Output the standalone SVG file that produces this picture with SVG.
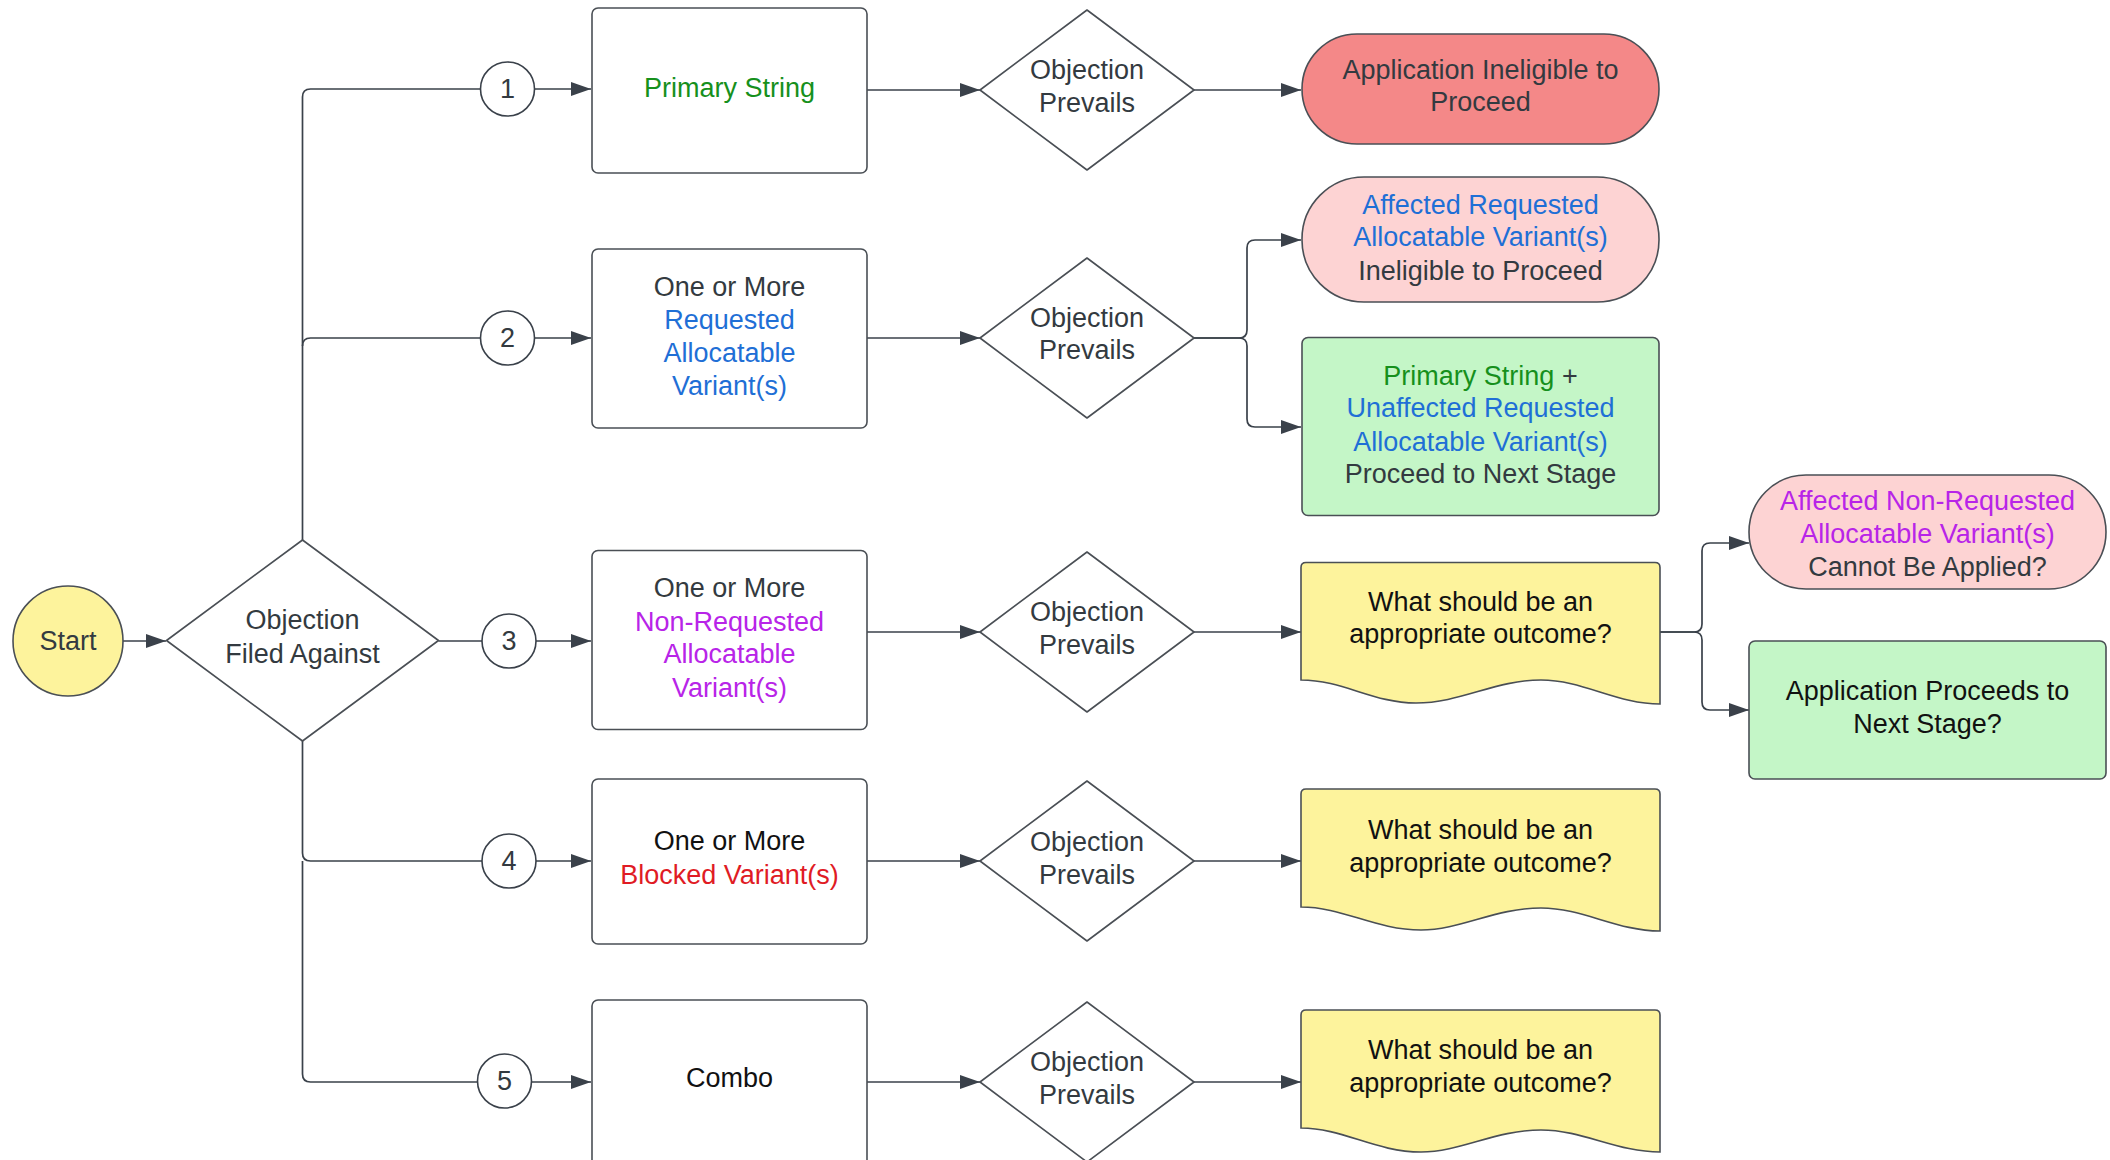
<svg xmlns="http://www.w3.org/2000/svg" width="2110" height="1160" viewBox="0 0 2110 1160">
<defs>
<marker id="arr" markerUnits="userSpaceOnUse" markerWidth="20" markerHeight="14" refX="20" refY="7" orient="auto">
<path d="M0,0 L20,7 L0,14 z" fill="#3a414a"/>
</marker>
<style>
text{font-family:"Liberation Sans",Arial,sans-serif;font-size:27px;text-anchor:middle;fill:#333a40}
.shape{stroke:#4a4f55;stroke-width:1.6}
.box{fill:#ffffff}
.dia{fill:#ffffff}
.conn{fill:none;stroke:#3a414a;stroke-width:1.7}
.arrow{marker-end:url(#arr)}
.lbl{fill:#ffffff;stroke:#3a414a;stroke-width:1.6}
.blk{fill:#111111}
.grn{fill:#16901c}
.blu{fill:#1f6fd6}
.pur{fill:#b824e8}
.red{fill:#e01b24}
.yel{fill:#fdf39c}
.rdf{fill:#f48888}
.pnk{fill:#fdd3d3}
.gnf{fill:#c4f6c7}
</style>
</defs>

<g id="connectors">
<path class="conn arrow" d="M123,641 H166"/>
<path class="conn arrow" d="M302.5,540 V97 Q302.5,89 310.5,89 H591"/>
<path class="conn arrow" d="M302.5,346 Q302.5,338 310.5,338 H591"/>
<path class="conn arrow" d="M438.5,641 H591"/>
<path class="conn arrow" d="M302.5,741 V853 Q302.5,861 310.5,861 H591"/>
<path class="conn arrow" d="M302.5,861 V1074 Q302.5,1082 310.5,1082 H591"/>
<path class="conn arrow" d="M867,90 H980"/>
<path class="conn arrow" d="M867,338 H980"/>
<path class="conn arrow" d="M867,632 H980"/>
<path class="conn arrow" d="M867,861 H980"/>
<path class="conn arrow" d="M867,1082 H980"/>
<path class="conn arrow" d="M1194,90 H1301"/>
<path class="conn arrow" d="M1194,338 H1239 Q1247,338 1247,330 V248 Q1247,240 1255,240 H1301"/>
<path class="conn arrow" d="M1194,338 H1239 Q1247,338 1247,346 V419 Q1247,427 1255,427 H1301"/>
<path class="conn arrow" d="M1194,632 H1301"/>
<path class="conn arrow" d="M1660,632 H1694 Q1702,632 1702,624 V551 Q1702,543 1710,543 H1749"/>
<path class="conn arrow" d="M1660,632 H1694 Q1702,632 1702,640 V702 Q1702,710 1710,710 H1749"/>
<path class="conn arrow" d="M1194,861 H1301"/>
<path class="conn arrow" d="M1194,1082 H1301"/>
<g id="label-1"><circle class="lbl" cx="507.5" cy="89" r="27"/><text x="507.5" y="98">1</text></g>
<g id="label-2"><circle class="lbl" cx="507.5" cy="338" r="27"/><text x="507.5" y="347">2</text></g>
<g id="label-3"><circle class="lbl" cx="509" cy="641" r="27"/><text x="509" y="650">3</text></g>
<g id="label-4"><circle class="lbl" cx="509" cy="861" r="27"/><text x="509" y="870">4</text></g>
<g id="label-5"><circle class="lbl" cx="504.5" cy="1081" r="27"/><text x="504.5" y="1090">5</text></g>
</g>

<g id="start">
<circle class="shape yel" cx="68" cy="641" r="55"/>
<text x="68" y="650">Start</text>
</g>

<g id="filed-against">
<path class="shape dia" d="M166.5,640.5 L302.5,540 L438.5,640.5 L302.5,741 Z" stroke-linejoin="round"/>
<text x="302.5" y="629">Objection</text>
<text x="302.5" y="663">Filed Against</text>
</g>

<g id="box-1">
<rect class="shape box" x="592" y="8" width="275" height="165" rx="6"/>
<text x="729.5" y="97" class="grn">Primary String</text>
</g>
<g id="box-2">
<rect class="shape box" x="592" y="249" width="275" height="179" rx="6"/>
<text x="729.5" y="296">One or More</text>
<text x="729.5" y="329" class="blu">Requested</text>
<text x="729.5" y="362" class="blu">Allocatable</text>
<text x="729.5" y="395" class="blu">Variant(s)</text>
</g>
<g id="box-3">
<rect class="shape box" x="592" y="550.5" width="275" height="179" rx="6"/>
<text x="729.5" y="597">One or More</text>
<text x="729.5" y="631" class="pur">Non-Requested</text>
<text x="729.5" y="663" class="pur">Allocatable</text>
<text x="729.5" y="697" class="pur">Variant(s)</text>
</g>
<g id="box-4">
<rect class="shape box" x="592" y="779" width="275" height="165" rx="6"/>
<text x="729.5" y="850" class="blk">One or More</text>
<text x="729.5" y="884" class="red">Blocked Variant(s)</text>
</g>
<g id="box-5">
<rect class="shape box" x="592" y="1000" width="275" height="166" rx="6"/>
<text x="729.5" y="1087" class="blk">Combo</text>
</g>

<g id="prevails-1">
<path class="shape dia" d="M980,90 L1087,10 L1194,90 L1087,170 Z" stroke-linejoin="round"/>
<text x="1087" y="79">Objection</text>
<text x="1087" y="112">Prevails</text>
</g>
<g id="prevails-2">
<path class="shape dia" d="M980,338 L1087,258 L1194,338 L1087,418 Z" stroke-linejoin="round"/>
<text x="1087" y="327">Objection</text>
<text x="1087" y="359">Prevails</text>
</g>
<g id="prevails-3">
<path class="shape dia" d="M980,632 L1087,552 L1194,632 L1087,712 Z" stroke-linejoin="round"/>
<text x="1087" y="621">Objection</text>
<text x="1087" y="654">Prevails</text>
</g>
<g id="prevails-4">
<path class="shape dia" d="M980,861 L1087,781 L1194,861 L1087,941 Z" stroke-linejoin="round"/>
<text x="1087" y="851">Objection</text>
<text x="1087" y="884">Prevails</text>
</g>
<g id="prevails-5">
<path class="shape dia" d="M980,1082 L1087,1002 L1194,1082 L1087,1162 Z" stroke-linejoin="round"/>
<text x="1087" y="1071">Objection</text>
<text x="1087" y="1104">Prevails</text>
</g>

<g id="ineligible">
<rect class="shape rdf" x="1302" y="34" width="357" height="110" rx="55"/>
<text x="1480.5" y="79">Application Ineligible to</text>
<text x="1480.5" y="111">Proceed</text>
</g>
<g id="affected-requested">
<rect class="shape pnk" x="1302" y="177" width="357" height="125" rx="62"/>
<text x="1480.5" y="214" class="blu">Affected Requested</text>
<text x="1480.5" y="246" class="blu">Allocatable Variant(s)</text>
<text x="1480.5" y="280">Ineligible to Proceed</text>
</g>
<g id="proceed-next">
<rect class="shape gnf" x="1302" y="337.5" width="357" height="178" rx="6"/>
<text x="1480.5" y="385"><tspan class="grn">Primary String</tspan> +</text>
<text x="1480.5" y="417" class="blu">Unaffected Requested</text>
<text x="1480.5" y="451" class="blu">Allocatable Variant(s)</text>
<text x="1480.5" y="483">Proceed to Next Stage</text>
</g>

<g id="outcome-3">
<path class="shape yel" d="M1301,680 V567.5 Q1301,562.5 1306,562.5 H1655 Q1660,562.5 1660,567.5 V704 C1617,704 1583,680 1541,680 C1495,680 1461,703 1416,703 C1373,703 1343,680 1301,680 Z"/>
<text x="1480.5" y="611" class="blk">What should be an</text>
<text x="1480.5" y="643" class="blk">appropriate outcome?</text>
</g>
<g id="outcome-4">
<path class="shape yel" d="M1301,907 V794 Q1301,789 1306,789 H1655 Q1660,789 1660,794 V931 C1617,931 1583,908 1541,908 C1495,908 1461,930 1421,930 C1375,930 1343,907 1301,907 Z"/>
<text x="1480.5" y="839" class="blk">What should be an</text>
<text x="1480.5" y="872" class="blk">appropriate outcome?</text>
</g>
<g id="outcome-5">
<path class="shape yel" d="M1301,1128 V1015 Q1301,1010 1306,1010 H1655 Q1660,1010 1660,1015 V1152 C1617,1152 1583,1130 1541,1130 C1495,1130 1461,1152 1421,1152 C1375,1152 1343,1128 1301,1128 Z"/>
<text x="1480.5" y="1059" class="blk">What should be an</text>
<text x="1480.5" y="1092" class="blk">appropriate outcome?</text>
</g>

<g id="cannot-apply">
<rect class="shape pnk" x="1749" y="475" width="357" height="114" rx="57"/>
<text x="1927.5" y="510" class="pur">Affected Non-Requested</text>
<text x="1927.5" y="543" class="pur">Allocatable Variant(s)</text>
<text x="1927.5" y="576">Cannot Be Applied?</text>
</g>
<g id="proceeds-next">
<rect class="shape gnf" x="1749" y="641" width="357" height="138" rx="6"/>
<text x="1927.5" y="700" class="blk">Application Proceeds to</text>
<text x="1927.5" y="733" class="blk">Next Stage?</text>
</g>
</svg>
